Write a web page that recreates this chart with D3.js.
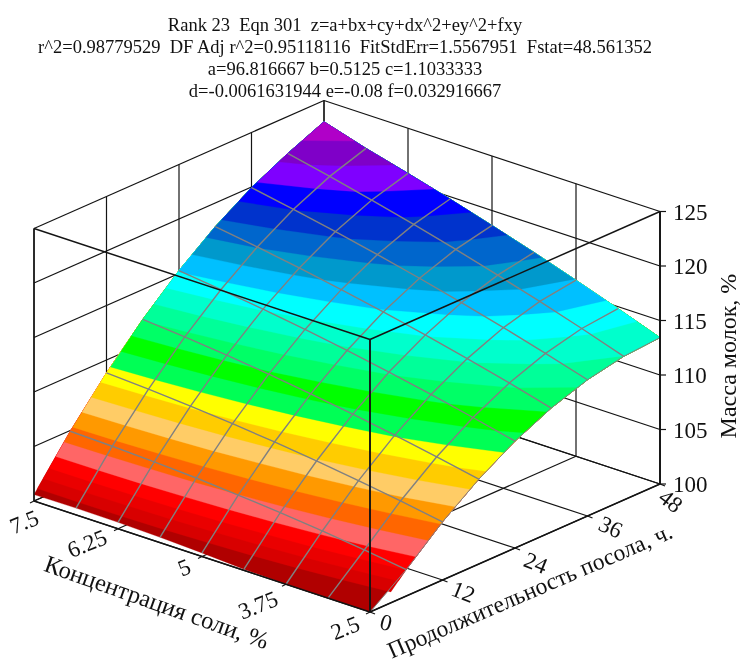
<!DOCTYPE html>
<html><head><meta charset="utf-8">
<script src="https://cdn.jsdelivr.net/npm/d3@7/dist/d3.min.js"></script>
<style>
html,body{margin:0;padding:0;background:#fff}
svg{display:block;filter:blur(0.4px)}
text{font-family:"Liberation Serif","Times New Roman",serif;fill:#111}
</style></head><body><svg id="c" width="741" height="662"></svg>
<script>
const titleLines = [
  "Rank 23  Eqn 301  z=a+bx+cy+dx^2+ey^2+fxy",
  "r^2=0.98779529  DF Adj r^2=0.95118116  FitStdErr=1.5567951  Fstat=48.561352",
  "a=96.816667 b=0.5125 c=1.1033333",
  "d=-0.0061631944 e=-0.08 f=0.032916667"
];
const concentrations = [2.5,3.125,3.75,4.375,5,5.625,6.25,6.875,7.5];
const hours = [0,6,12,18,24,30,36,42,48];
const massAtC2_5   = [99.08,102.42,105.33,107.78,109.80,111.37,112.50,113.18,113.43];
const massAtC3_125 = [99.48,102.95,105.98,108.56,110.70,112.40,113.65,114.46,114.82];
const massAtC3_75  = [99.83,103.42,106.57,109.28,111.54,113.36,114.74,115.67,116.15];
const massAtC4_375 = [100.11,103.83,107.10,109.93,112.32,114.26,115.76,116.81,117.43];
const massAtC5     = [100.33,104.17,107.57,110.52,113.03,115.10,116.72,117.90,118.63];
const massAtC5_625 = [100.49,104.46,107.98,111.05,113.69,115.87,117.62,118.92,119.78];
const massAtC6_25  = [100.59,104.67,108.32,111.52,114.28,116.59,118.46,119.88,120.86];
const massAtC6_875 = [100.62,104.83,108.60,111.92,114.80,117.24,119.23,120.78,121.88];
const massAtC7_5   = [100.59,104.93,108.82,112.26,115.27,117.83,119.94,121.61,123.05];
const massRows = [massAtC2_5,massAtC3_125,massAtC3_75,massAtC4_375,massAtC5,massAtC5_625,massAtC6_25,massAtC6_875,massAtC7_5];
const concTicks = [2.5,3.75,5,6.25,7.5];
const hourTicks = [0,12,24,36,48];
const massTicks = [100,105,110,115,120,125];
const bandLevels = [99,101,101.7,102.4,103.2,104.2,105.2,106.2,107.2,108.2,109.2,110.2,111.2,112.2,113.2,114.2,115.2,116.2,117.2,118.2,119.2,120.2,121.2,122.2];
const bandColors = ["#b00000","#d80000","#ea0000","#ff0000","#ff6666","#ff6600","#ff9900","#ffcc66","#ffcc00","#ffff00","#00ff55","#00ff00","#00ff66","#00ff99","#00ffcc","#00ffff","#00c0ff","#0099cc","#0066cc","#0033cc","#0000ff","#7f00ff","#7f00c8","#b000c8"];

const svg = d3.select("#c");
const cs = d3.scaleLinear().domain([2.5,7.5]).range([0,1]);
const hs = d3.scaleLinear().domain([0,48]).range([0,1]);
const zs = d3.scaleLinear().domain([100,125]).range([0,1]).clamp(true);
const F = [370,612], XV = [-336,-111], YV = [290,-128], ZH = 272.5;
const proj = (c,h,z)=>[F[0]+cs(c)*XV[0]+hs(h)*YV[0], F[1]+cs(c)*XV[1]+hs(h)*YV[1]-zs(z)*ZH];
const line = d3.line();
const black = "#141414";
function seg(g,a,b,w){ g.append("path").attr("d",line([proj(...a),proj(...b)])).attr("stroke",black).attr("stroke-width",w||1.2).attr("fill","none"); }

const back = svg.append("g");
massTicks.forEach(z=>{ seg(back,[7.5,0,z],[7.5,48,z]); seg(back,[7.5,48,z],[2.5,48,z]); });
hourTicks.forEach(h=>{ seg(back,[7.5,h,100],[7.5,h,125]); seg(back,[7.5,h,100],[2.5,h,100]); });
concTicks.forEach(c=>{ seg(back,[c,48,100],[c,48,125]); seg(back,[c,0,100],[c,48,100]); });

const n = concentrations.length, m = hours.length;
const flat = [];
for(let j=0;j<n;j++) for(let i=0;i<m;i++) flat.push(massRows[j][i]);
const contours = d3.contours().size([m,n]).smooth(true).thresholds(bandLevels)(flat);
const cScale = d3.scaleLinear().domain(d3.range(n)).range(concentrations);
const hScale = d3.scaleLinear().domain(d3.range(m)).range(hours);
function gridPoint(px,py){
  const u = Math.max(0,Math.min(m-1,px-0.5)), v = Math.max(0,Math.min(n-1,py-0.5));
  const i = Math.min(m-2,Math.floor(u)), j = Math.min(n-2,Math.floor(v));
  const a=u-i,b=v-j;
  const z = (1-a)*(1-b)*massRows[j][i]+a*(1-b)*massRows[j][i+1]+(1-a)*b*massRows[j+1][i]+a*b*massRows[j+1][i+1];
  return proj(cScale(v),hScale(u),z);
}
const surf = svg.append("g");
contours.forEach((ct,k)=>{
  const d = ct.coordinates.map(poly=>poly.map(ring=>line(ring.map(p=>gridPoint(p[0],p[1])))+"Z").join("")).join("");
  surf.append("path").attr("d",d).attr("fill",bandColors[k]).attr("fill-rule","evenodd").attr("stroke",bandColors[k]).attr("stroke-width",0.3);
});

const mesh = svg.append("g").attr("fill","none").attr("stroke","#808080").attr("stroke-width",1.4);
for(let j=1;j<n-1;j++) mesh.append("path").attr("d",line(hours.map((h,i)=>proj(concentrations[j],h,massRows[j][i]))));
for(let i=1;i<m-1;i++) mesh.append("path").attr("d",line(concentrations.map((c,j)=>proj(c,hours[i],massRows[j][i]))));
mesh.append("path").attr("d",line(hours.map((h,i)=>proj(2.5,h,massRows[0][i])))).attr("stroke-width",1);

const front = svg.append("g");
seg(front,[7.5,0,125],[2.5,0,125],1.5);
seg(front,[2.5,0,125],[2.5,48,125],1.5);
seg(front,[2.5,0,100],[2.5,0,125],1.9);
seg(front,[2.5,48,100],[2.5,48,125],1.9);
seg(front,[7.5,0,100],[7.5,0,125],1.5);
seg(front,[7.5,0,100],[2.5,0,100],1.5);
seg(front,[2.5,0,100],[2.5,48,100],1.5);

const fs = 23;
const tickG = svg.append("g").attr("stroke",black).attr("stroke-width",1.2);
massTicks.forEach(z=>{
  const p = proj(2.5,48,z);
  tickG.append("line").attr("x1",p[0]).attr("y1",p[1]).attr("x2",p[0]+6).attr("y2",p[1]);
  svg.append("text").attr("x",p[0]+13).attr("y",p[1]+8).attr("font-size",fs).text(z);
});
const concOffs = {2.5:[-22,16],3.75:[-25,21],5:[-15,11],6.25:[-28,15],7.5:[-7,21]};
concTicks.forEach(c=>{
  const p = proj(c,0,100), o = concOffs[c];
  tickG.append("line").attr("x1",p[0]).attr("y1",p[1]).attr("x2",p[0]-4).attr("y2",p[1]+2);
  svg.append("text").attr("text-anchor","middle").attr("font-size",fs).attr("transform",`translate(${p[0]+o[0]},${p[1]+o[1]+7}) rotate(-22)`).text(c);
});
const hourOffs = {0:[14,11],12:[18,12],24:[18,15],36:[20,11],48:[6,16]};
const hourRot = {0:15,12:22,24:22,36:25,48:38};
hourTicks.forEach(h=>{
  const p = proj(2.5,h,100), o = hourOffs[h];
  tickG.append("line").attr("x1",p[0]).attr("y1",p[1]).attr("x2",p[0]+5).attr("y2",p[1]+2);
  svg.append("text").attr("text-anchor","middle").attr("font-size",fs).attr("transform",`translate(${p[0]+o[0]},${p[1]+o[1]+7}) rotate(${hourRot[h]})`).text(h);
});

svg.append("text").attr("text-anchor","middle").attr("font-size",24.5).attr("transform","translate(154,610) rotate(19.5)").text("Концентрация соли, %");
svg.append("text").attr("text-anchor","middle").attr("font-size",23.5).attr("transform","translate(533,598) rotate(-23.3)").text("Продолжительность посола, ч.");
svg.append("text").attr("text-anchor","middle").attr("font-size",24).attr("transform","translate(736,356) rotate(-90)").text("Масса молок, %");

svg.selectAll("text.title").data(titleLines).join("text").attr("class","title")
  .attr("x",345).attr("y",(d,i)=>31+i*22).attr("text-anchor","middle").attr("font-size",18.5).style("white-space","pre").text(d=>d);
</script></body></html>
